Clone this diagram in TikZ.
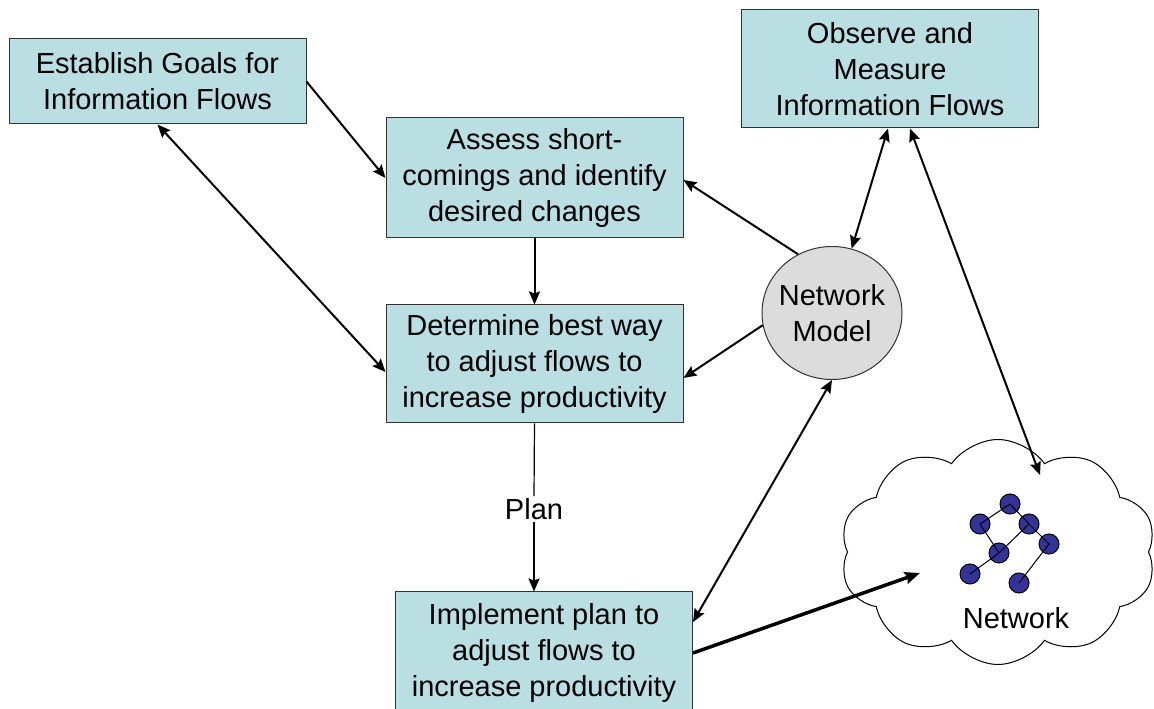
\documentclass[tikz,border=0pt]{standalone}
\usepackage{fontspec}
\setmainfont{Liberation Sans}
\usetikzlibrary{shapes.geometric,shapes.symbols,arrows.meta}
\definecolor{boxfill}{RGB}{185,223,227}
\definecolor{modelfill}{RGB}{220,220,220}
\definecolor{dotfill}{RGB}{51,51,153}
\tikzset{
  bigfont/.style={font=\fontsize{29}{36}\selectfont},
  flowbox/.style={draw=black!80, fill=boxfill, line width=1pt, minimum width=297pt, align=center, inner sep=0pt, bigfont},
  arr/.style={line width=2pt, -{Stealth[length=13pt,width=11pt,inset=2pt]}},
  twoarr/.style={line width=2pt, {Stealth[length=13pt,width=11pt,inset=2pt]}-{Stealth[length=13pt,width=11pt,inset=2pt]}},
  dot/.style={circle, draw=black, fill=dotfill, minimum size=20pt, inner sep=0pt, line width=1pt},
}
\begin{document}
\begin{tikzpicture}[x=1pt, y=1pt]
\useasboundingbox (0,0) rectangle (1154,709);

\node [cloud, draw, fill=white, line width=1pt, cloud puffs=10, cloud puff arc=110, aspect=1.5, minimum width=316pt, minimum height=225pt] (net) at (998,157) {};
\node [bigfont] (netlabel) at (1016,91) {Network};

\node [flowbox, minimum height=85pt] (goals) at (157.5,627.5) {Establish Goals for\\Information Flows};
\node [flowbox, minimum height=120pt] (assess) at (534.5,531) {Assess short-\\comings and identify\\desired changes};
\node [flowbox, minimum height=118pt] (determine) at (534.5,345) {Determine best way\\to adjust flows to\\increase productivity};
\node [flowbox, minimum height=122pt] (implement) at (544,56) {Implement plan to\\adjust flows to\\increase productivity};
\node [flowbox, minimum height=118pt] (observe) at (890,640) {Observe and\\Measure\\Information Flows};
\node [ellipse, draw=black!80, fill=modelfill, line width=1pt, minimum width=140pt, minimum height=133pt, inner xsep=-16pt, inner ysep=0pt, align=center, bigfont] (model) at (832,396) {Network\\Model};
\node [bigfont, inner sep=2pt] (plan) at (534,200) {Plan};

% network inside the cloud
\node [dot] (n1) at (1010,205) {};
\node [dot] (n2) at (980,185) {};
\node [dot] (n3) at (1029,185) {};
\node [dot] (n4) at (1049,165) {};
\node [dot] (n5) at (999,156) {};
\node [dot] (n6) at (970,135) {};
\node [dot] (n7) at (1019,126) {};
\draw [line width=1pt] (n2.center) -- (n1.center) -- (n3.center) -- (n4.center) -- (n7.center);
\draw [line width=1pt] (n2.center) -- (n5.center) -- (n3.center);
\draw [line width=1pt] (n5.center) -- (n6.center);

\coordinate (netin1) at (1040,234);
\coordinate (netin2) at (920,136);

\draw [arr] (goals.east) -- (assess.west);
\draw [twoarr] (goals.south) -- ([yshift=-8pt]determine.west);
\draw [arr] (assess.south) -- (determine.north);
\draw [line width=1.2pt] (determine.south) -- (plan.north);
\draw [arr] (plan.south) -- (plan.south |- implement.north);
\draw [arr] (model.120) -- ([yshift=-2pt]assess.east);
\draw [arr] (model.190) -- ([yshift=-14pt]determine.east);
\draw [twoarr] (model.73) -- ([xshift=-2pt]observe.south);
\draw [twoarr] ([xshift=20pt]observe.south) -- (netin1);
\draw [twoarr] ([yshift=31pt]implement.east) -- (model.south);
\draw [line width=3.5pt, -{Stealth[length=15pt,width=12pt,inset=2pt]}] (implement.east) -- (netin2);

\end{tikzpicture}
\end{document}
